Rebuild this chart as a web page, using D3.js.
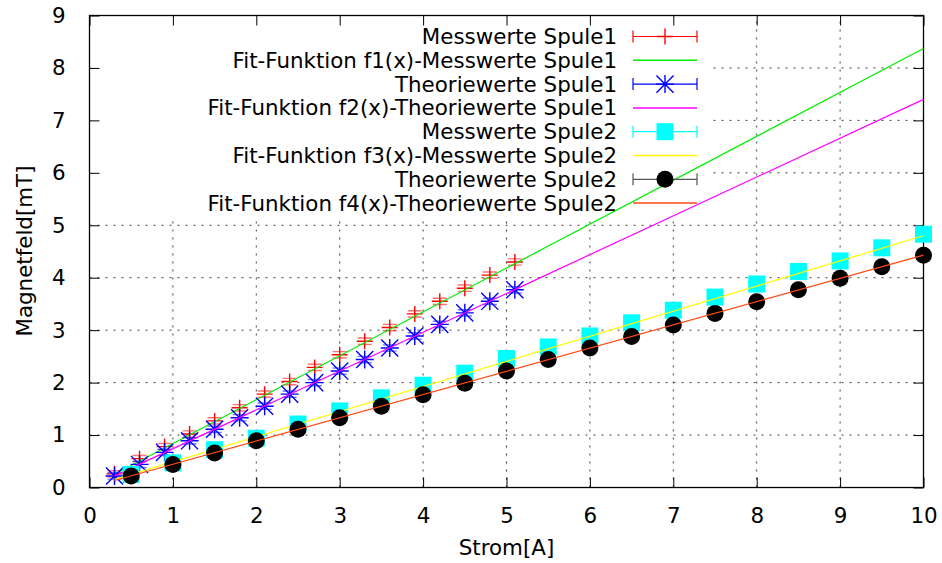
<!DOCTYPE html>
<html>
<head>
<meta charset="utf-8">
<script src="https://cdn.jsdelivr.net/npm/d3@7"></script>
<style>
  body { margin: 0; background: #fff; }
  svg { display: block; font-family: "DejaVu Sans", sans-serif; }
</style>
</head>
<body>
<div id="canvas"></div>
<script>
// Spule 1: Strom 0.3 .. 5.1 A
const strom1 = [0.3, 0.6, 0.9, 1.2, 1.5, 1.8, 2.1, 2.4, 2.7, 3.0, 3.3, 3.6, 3.9, 4.2, 4.5, 4.8, 5.1];
const mess1 = [0.26, 0.55, 0.78, 1.02, 1.27, 1.52, 1.78, 2.02, 2.29, 2.53, 2.79, 3.05, 3.31, 3.55, 3.80, 4.05, 4.30];
const theorie1 = [0.22, 0.44, 0.67, 0.89, 1.11, 1.33, 1.55, 1.78, 2.00, 2.22, 2.44, 2.66, 2.89, 3.11, 3.33, 3.55, 3.77];

// Spule 2: Strom 0.5 .. 10 A
const strom2 = [0.5, 1, 1.5, 2, 2.5, 3, 3.5, 4, 4.5, 5, 5.5, 6, 6.5, 7, 7.5, 8, 8.5, 9, 9.5, 10];
const mess2 = [0.25, 0.47, 0.72, 0.94, 1.21, 1.46, 1.71, 1.95, 2.18, 2.46, 2.68, 2.89, 3.14, 3.38, 3.63, 3.88, 4.12, 4.32, 4.57, 4.83];
const theorie2 = [0.22, 0.44, 0.66, 0.89, 1.11, 1.33, 1.55, 1.77, 1.99, 2.22, 2.44, 2.66, 2.88, 3.10, 3.32, 3.54, 3.77, 3.99, 4.21, 4.43];

// Fehler der Messwerte
const fehler1 = 0.06;
const fehler2 = 0.06;

// Fit-Parameter f(x) = a*x + b
const fitParams = [
  { name: "f1", a: 0.837, b: 0.0 },
  { name: "f2", a: 0.740, b: 0.0 },
  { name: "f3", a: 0.479, b: 0.01 },
  { name: "f4", a: 0.443, b: 0.0 }
];
const fitRange = [0.3, 10];

const xTicks = [0, 1, 2, 3, 4, 5, 6, 7, 8, 9, 10];
const yTicks = [0, 1, 2, 3, 4, 5, 6, 7, 8, 9];

const legendLabels = [
  "Messwerte Spule1",
  "Fit-Funktion f1(x)-Messwerte Spule1",
  "Theoriewerte Spule1",
  "Fit-Funktion f2(x)-Theoriewerte Spule1",
  "Messwerte Spule2",
  "Fit-Funktion f3(x)-Messwerte Spule2",
  "Theoriewerte Spule2",
  "Fit-Funktion f4(x)-Theoriewerte Spule2"
];

const width = 942;
const height = 563;
const margin = { top: 15.5, left: 89.5, bottom: 75.5, right: 18.5 };
const fontSize = 21.4;

const svg = d3.select("#canvas").append("svg")
  .attr("width", width)
  .attr("height", height);

const x = d3.scaleLinear().domain([0, 10]).range([margin.left, width - margin.right]);
const y = d3.scaleLinear().domain([0, 9]).range([height - margin.bottom, margin.top]);

// Gitter
const grid = svg.append("g")
  .attr("stroke", "#000")
  .attr("stroke-width", 1)
  .attr("stroke-dasharray", "2,6")
  .attr("opacity", 0.75);
grid.selectAll(".gx").data(xTicks.slice(1, -1)).enter().append("line")
  .attr("x1", d => x(d)).attr("x2", d => x(d))
  .attr("y1", y(0)).attr("y2", y(9));
grid.selectAll(".gy").data(yTicks.slice(1, -1)).enter().append("line")
  .attr("x1", x(0)).attr("x2", x(10))
  .attr("y1", d => y(d)).attr("y2", d => y(d));

// Legende (deckend)
const keyFirst = 36.5;
const keyStep = 23.8;
const textRight = 617;
const sampleX1 = 633, sampleX2 = 697;
svg.append("rect")
  .attr("x", x(0) + 1).attr("y", y(9) + 1)
  .attr("width", 708 - x(0)).attr("height", keyFirst + keyStep * 7 + 12 - y(9))
  .attr("fill", "#fff");

// Achsen mit Ticks auf allen Seiten
const tickLen = 10;
svg.append("g")
  .attr("transform", `translate(0,${y(0)})`)
  .call(d3.axisBottom(x).tickValues(xTicks).tickSize(-tickLen).tickPadding(20))
  .call(g => g.select(".domain").remove())
  .call(g => g.selectAll("text").attr("font-size", fontSize).attr("fill", "#000").attr("font-family", "DejaVu Sans"));
svg.append("g")
  .attr("transform", `translate(0,${y(9)})`)
  .call(d3.axisTop(x).tickValues(xTicks).tickSize(-tickLen).tickFormat(""))
  .call(g => g.select(".domain").remove());
svg.append("g")
  .attr("transform", `translate(${x(0)},0)`)
  .call(d3.axisLeft(y).tickValues(yTicks).tickSize(-tickLen).tickPadding(24))
  .call(g => g.select(".domain").remove())
  .call(g => g.selectAll("text").attr("font-size", fontSize).attr("fill", "#000").attr("font-family", "DejaVu Sans"));
svg.append("g")
  .attr("transform", `translate(${x(10)},0)`)
  .call(d3.axisRight(y).tickValues(yTicks).tickSize(-tickLen).tickFormat(""))
  .call(g => g.select(".domain").remove());

svg.append("rect")
  .attr("x", x(0)).attr("y", y(9))
  .attr("width", x(10) - x(0)).attr("height", y(0) - y(9))
  .attr("fill", "none").attr("stroke", "#000").attr("stroke-width", 1.3);

// Achsenbeschriftung
svg.append("text")
  .attr("x", (x(0) + x(10)) / 2).attr("y", 555)
  .attr("text-anchor", "middle").attr("font-size", fontSize)
  .text("Strom[A]");
svg.append("text")
  .attr("transform", "translate(32,251) rotate(-90)")
  .attr("text-anchor", "middle").attr("font-size", fontSize)
  .text("Magnetfeld[mT]");

// Symbole
function plus(g, cx, cy, s, color) {
  g.append("path").attr("d", `M${cx - s},${cy}H${cx + s}M${cx},${cy - s}V${cy + s}`)
    .attr("stroke", color).attr("stroke-width", 1.4).attr("fill", "none");
}
function star(g, cx, cy, s, color) {
  const k = s * 0.95;
  g.append("path")
    .attr("d", `M${cx - s},${cy}H${cx + s}M${cx},${cy - s}V${cy + s}` +
      `M${cx - k},${cy - k}L${cx + k},${cy + k}M${cx - k},${cy + k}L${cx + k},${cy - k}`)
    .attr("stroke", color).attr("stroke-width", 1.4).attr("fill", "none");
}
function square(g, cx, cy, s, color) {
  g.append("rect").attr("x", cx - s).attr("y", cy - s)
    .attr("width", 2 * s).attr("height", 2 * s).attr("fill", color);
}
function circle(g, cx, cy, s, color) {
  g.append("circle").attr("cx", cx).attr("cy", cy).attr("r", s).attr("fill", color);
}
function yErr(g, cx, v, e, color) {
  const y1 = y(v - e), y2 = y(v + e);
  g.append("path")
    .attr("d", `M${cx},${y1}V${y2}M${cx - 7},${y1}H${cx + 7}M${cx - 7},${y2}H${cx + 7}`)
    .attr("stroke", color).attr("stroke-width", 1.4).attr("fill", "none").attr("opacity", 0.55);
}

const series = [
  { xs: strom1, ys: mess1, err: fehler1, color: "#ff0000", sym: plus, size: 8 },
  { fit: 0, color: "#00ee00" },
  { xs: strom1, ys: theorie1, err: fehler1, color: "#0000ff", sym: star, size: 9 },
  { fit: 1, color: "#ff00ff" },
  { xs: strom2, ys: mess2, err: fehler2, color: "#00ffff", sym: square, size: 8.5 },
  { fit: 2, color: "#ffff00" },
  { xs: strom2, ys: theorie2, err: fehler2, color: "#000000", sym: circle, size: 8.5, errColor: "#555" },
  { fit: 3, color: "#ff4a10" }
];

// Legendentexte
const key = svg.append("g");
legendLabels.forEach((label, i) => {
  key.append("text")
    .attr("x", textRight).attr("y", keyFirst + keyStep * i + 7.5)
    .attr("text-anchor", "end").attr("font-size", fontSize)
    .text(label);
});

const line = d3.line().x(d => x(d[0])).y(d => y(d[1]));

series.forEach((s, i) => {
  const g = svg.append("g");
  const ky = keyFirst + keyStep * i;
  if (s.fit !== undefined) {
    const p = fitParams[s.fit];
    const pts = fitRange.map(v => [v, p.a * v + p.b]);
    g.append("path").attr("d", line(pts))
      .attr("stroke", s.color).attr("stroke-width", 1.2).attr("fill", "none");
    g.append("line").attr("x1", sampleX1).attr("x2", sampleX2)
      .attr("y1", ky).attr("y2", ky)
      .attr("stroke", s.color).attr("stroke-width", 1.5);
  } else {
    const ec = s.errColor || s.color;
    s.xs.forEach((v, j) => {
      yErr(g, x(v), s.ys[j], s.err, ec);
      s.sym(g, x(v), y(s.ys[j]), s.size, s.color);
    });
    // Legendenmuster mit Fehlerbalken
    g.append("path")
      .attr("d", `M${sampleX1},${ky}H${sampleX2}M${sampleX1},${ky - 6}V${ky + 6}M${sampleX2},${ky - 6}V${ky + 6}`)
      .attr("stroke", ec).attr("stroke-width", 1.2).attr("fill", "none");
    s.sym(g, (sampleX1 + sampleX2) / 2, ky, s.size, s.color);
  }
});
</script>
</body>
</html>
